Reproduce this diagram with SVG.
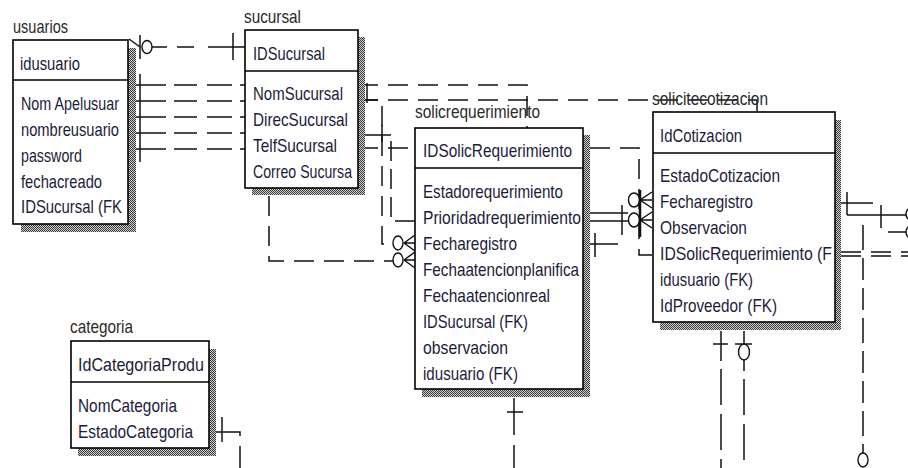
<svg xmlns="http://www.w3.org/2000/svg" width="908" height="468" viewBox="0 0 908 468">
<defs>
<pattern id="sh" width="2" height="2" patternUnits="userSpaceOnUse"><rect width="2" height="2" fill="#cfcfcf"/><rect width="1" height="1" fill="#3a3a3a"/><rect x="1" y="1" width="1" height="1" fill="#3a3a3a"/></pattern>
<clipPath id="c1"><rect x="13" y="40" width="114" height="184"/></clipPath>
<clipPath id="c2"><rect x="245" y="30" width="112" height="158"/></clipPath>
<clipPath id="c3"><rect x="415" y="128" width="167" height="261"/></clipPath>
<clipPath id="c4"><rect x="653" y="112" width="181" height="210"/></clipPath>
<clipPath id="c5"><rect x="71" y="341" width="137" height="107"/></clipPath>
</defs>
<style>
.box{fill:#fff;stroke:#000;stroke-width:1.6}
.shd{fill:url(#sh)}
.div{stroke:#000;stroke-width:1.6}
.t{font-family:"Liberation Sans Narrow","Liberation Sans",Arial,sans-serif;font-size:19px;fill:#1c1c3a}
.lb{font-family:"Liberation Sans Narrow","Liberation Sans",Arial,sans-serif;font-size:19px;fill:#2a2a2a}
.c path,.c line{fill:none;stroke:#111;stroke-width:1.5}
.c .d{stroke-dasharray:20 10}
.c ellipse{fill:#fff;stroke:#111;stroke-width:1.4}
</style>
<g id="connectors" class="c">
<!-- usuarios - sucursal -->
<path d="M129,39 L140,47"/>
<line x1="140" y1="35" x2="140" y2="59"/>
<path d="M152,47 H245" style="stroke-dasharray:15 10 17 14 50"/>
<ellipse cx="147" cy="47" rx="5" ry="6.5"/>
<line x1="233" y1="33" x2="233" y2="60"/>
<path d="M128,85 H245" style="stroke-dasharray:38 8 23 10 25 8 10"/>
<path d="M128,101 H245" style="stroke-dasharray:38 8 23 10 25 8 10"/>
<path d="M128,117 H245" style="stroke-dasharray:38 8 23 10 25 8 10"/>
<path d="M128,133 H245" style="stroke-dasharray:38 8 23 10 25 8 10"/>
<path d="M128,149 H245" style="stroke-dasharray:38 8 23 10 25 8 10"/>
<line x1="140" y1="74" x2="140" y2="162"/>
<!-- sucursal right side -->
<path class="d" d="M358,85 H527 V128"/>
<path class="d" d="M358,100 H757 V112"/>
<line x1="367" y1="83" x2="367" y2="103"/>
<path class="d" d="M358,100 H382 V244 H393"/>
<path d="M358,135 H391 V221 H415" style="stroke-dasharray:33 6 20 8 20 8 20 8 20 8 20 8 60"/>
<line x1="382" y1="125" x2="382" y2="142"/>
<path class="d" d="M358,148 H415"/>
<path class="d" d="M269,196 V261 H393"/>
<ellipse cx="398" cy="243" rx="5" ry="7"/>
<ellipse cx="398" cy="260" rx="5" ry="7"/>
<path d="M404,243 L415,235 M404,243 H415 M404,243 L415,251"/>
<path d="M404,260 L415,252 M404,260 H415 M404,260 L415,268"/>
<!-- solicrequerimiento - solicitecotizacion -->
<path class="d" d="M590,148 H639 V255 H652"/>
<path d="M590,213 H628"/>
<path d="M590,221 H628"/>
<line x1="622" y1="205" x2="622" y2="235"/>
<path d="M590,244 H618"/>
<line x1="595" y1="233" x2="595" y2="257"/>
<ellipse cx="634" cy="200" rx="5.5" ry="7"/>
<ellipse cx="634" cy="220" rx="5.5" ry="7"/>
<line x1="640" y1="190" x2="640" y2="237" style="stroke-width:2.5"/>
<path d="M640,200 L652,192 M640,200 H652 M640,200 L652,208"/>
<path d="M640,220 L652,212 M640,220 H652 M640,220 L652,228"/>
<!-- bottoms -->
<path d="M514,398 V468" style="stroke-dasharray:37 10 40"/>
<line x1="507" y1="412" x2="523" y2="412"/>
<path d="M721,331 V468" style="stroke-dasharray:30 8 36 9 36 9 36"/>
<line x1="713" y1="344" x2="728" y2="344"/>
<path d="M744,331 V468" style="stroke-dasharray:40 8 36 9 36 9 36"/>
<line x1="735" y1="344" x2="752" y2="344"/>
<ellipse cx="744" cy="352" rx="5.5" ry="8"/>
<!-- right side -->
<path d="M841,203 H873"/>
<line x1="847" y1="192" x2="847" y2="215"/>
<path d="M847,215 H908"/>
<line x1="881" y1="205" x2="881" y2="228"/>
<ellipse cx="911" cy="214" rx="5" ry="6"/>
<path d="M888,232 H908"/>
<ellipse cx="911" cy="232" rx="5" ry="6"/>
<path class="d" d="M841,252 H908"/>
<path class="d" d="M841,256 H908"/>
<path d="M863,225 V453" style="stroke-dasharray:25 8 22 8 22 8"/>
<ellipse cx="863" cy="460" rx="5" ry="7"/>
<!-- categoria -->
<path d="M216,432 H240 V468" style="stroke-dasharray:28 10 40"/>
<line x1="222" y1="417" x2="222" y2="442"/>
</g>
<g id="usuarios">
<text class="lb" x="13" y="33" textLength="55" lengthAdjust="spacingAndGlyphs">usuarios</text>
<rect class="shd" x="21" y="48" width="115" height="184"/>
<rect class="box" x="13" y="40" width="115" height="184"/>
<line class="div" x1="13" y1="80" x2="128" y2="80"/>
<g clip-path="url(#c1)">
<text class="t" x="20" y="69.5" textLength="60" lengthAdjust="spacingAndGlyphs">idusuario</text>
<text class="t" x="21" y="109.5" textLength="98" lengthAdjust="spacingAndGlyphs">Nom Apelusuar</text>
<text class="t" x="21" y="135.5" textLength="98" lengthAdjust="spacingAndGlyphs">nombreusuario</text>
<text class="t" x="21" y="161.5" textLength="61" lengthAdjust="spacingAndGlyphs">password</text>
<text class="t" x="21" y="187.5" textLength="81" lengthAdjust="spacingAndGlyphs">fechacreado</text>
<text class="t" x="21" y="213" textLength="101" lengthAdjust="spacingAndGlyphs">IDSucursal (FK</text>
</g>
</g>
<g id="sucursal">
<text class="lb" x="244" y="23" textLength="57" lengthAdjust="spacingAndGlyphs">sucursal</text>
<rect class="shd" x="252" y="37" width="113" height="158"/>
<rect class="box" x="245" y="30" width="113" height="158"/>
<line class="div" x1="245" y1="71" x2="358" y2="71"/>
<g clip-path="url(#c2)">
<text class="t" x="253" y="60" textLength="72" lengthAdjust="spacingAndGlyphs">IDSucursal</text>
<text class="t" x="253" y="100" textLength="90" lengthAdjust="spacingAndGlyphs">NomSucursal</text>
<text class="t" x="253" y="126" textLength="95" lengthAdjust="spacingAndGlyphs">DirecSucursal</text>
<text class="t" x="253" y="152" textLength="84" lengthAdjust="spacingAndGlyphs">TelfSucursal</text>
<text class="t" x="253" y="178" textLength="99" lengthAdjust="spacingAndGlyphs">Correo Sucursa</text>
</g>
</g>
<g id="solicrequerimiento">
<text class="lb" x="415" y="118" textLength="125" lengthAdjust="spacingAndGlyphs">solicrequerimiento</text>
<rect class="shd" x="422" y="135" width="168" height="262"/>
<rect class="box" x="415" y="128" width="168" height="261"/>
<line class="div" x1="415" y1="168" x2="583" y2="168"/>
<g clip-path="url(#c3)">
<text class="t" x="423" y="157" textLength="149" lengthAdjust="spacingAndGlyphs">IDSolicRequerimiento</text>
<text class="t" x="423" y="198" textLength="140" lengthAdjust="spacingAndGlyphs">Estadorequerimiento</text>
<text class="t" x="423" y="224" textLength="158" lengthAdjust="spacingAndGlyphs">Prioridadrequerimiento</text>
<text class="t" x="423" y="250" textLength="94" lengthAdjust="spacingAndGlyphs">Fecharegistro</text>
<text class="t" x="423" y="276" textLength="156" lengthAdjust="spacingAndGlyphs">Fechaatencionplanifica</text>
<text class="t" x="423" y="302" textLength="127" lengthAdjust="spacingAndGlyphs">Fechaatencionreal</text>
<text class="t" x="423" y="328" textLength="105" lengthAdjust="spacingAndGlyphs">IDSucursal (FK)</text>
<text class="t" x="423" y="354" textLength="85" lengthAdjust="spacingAndGlyphs">observacion</text>
<text class="t" x="423" y="380" textLength="95" lengthAdjust="spacingAndGlyphs">idusuario (FK)</text>
</g>
</g>
<g id="solicitecotizacion">
<text class="lb" x="652" y="105" textLength="116" lengthAdjust="spacingAndGlyphs">solicitecotizacion</text>
<rect class="shd" x="660" y="120" width="181" height="210"/>
<rect class="box" x="653" y="112" width="182" height="210"/>
<line class="div" x1="653" y1="153" x2="835" y2="153"/>
<g clip-path="url(#c4)">
<text class="t" x="660" y="142" textLength="82" lengthAdjust="spacingAndGlyphs">IdCotizacion</text>
<text class="t" x="660" y="182" textLength="120" lengthAdjust="spacingAndGlyphs">EstadoCotizacion</text>
<text class="t" x="660" y="208" textLength="93" lengthAdjust="spacingAndGlyphs">Fecharegistro</text>
<text class="t" x="660" y="234" textLength="87" lengthAdjust="spacingAndGlyphs">Observacion</text>
<text class="t" x="660" y="260" textLength="172" lengthAdjust="spacingAndGlyphs">IDSolicRequerimiento (F</text>
<text class="t" x="660" y="286" textLength="93" lengthAdjust="spacingAndGlyphs">idusuario (FK)</text>
<text class="t" x="660" y="312" textLength="117" lengthAdjust="spacingAndGlyphs">IdProveedor (FK)</text>
</g>
</g>
<g id="categoria">
<text class="lb" x="70" y="333" textLength="63" lengthAdjust="spacingAndGlyphs">categoria</text>
<rect class="shd" x="78" y="349" width="138" height="107"/>
<rect class="box" x="71" y="341" width="138" height="107"/>
<line class="div" x1="71" y1="382" x2="209" y2="382"/>
<g clip-path="url(#c5)">
<text class="t" x="78" y="371" textLength="126" lengthAdjust="spacingAndGlyphs">IdCategoriaProdu</text>
<text class="t" x="78" y="412" textLength="99" lengthAdjust="spacingAndGlyphs">NomCategoria</text>
<text class="t" x="78" y="438" textLength="115" lengthAdjust="spacingAndGlyphs">EstadoCategoria</text>
</g>
</g>
</svg>
